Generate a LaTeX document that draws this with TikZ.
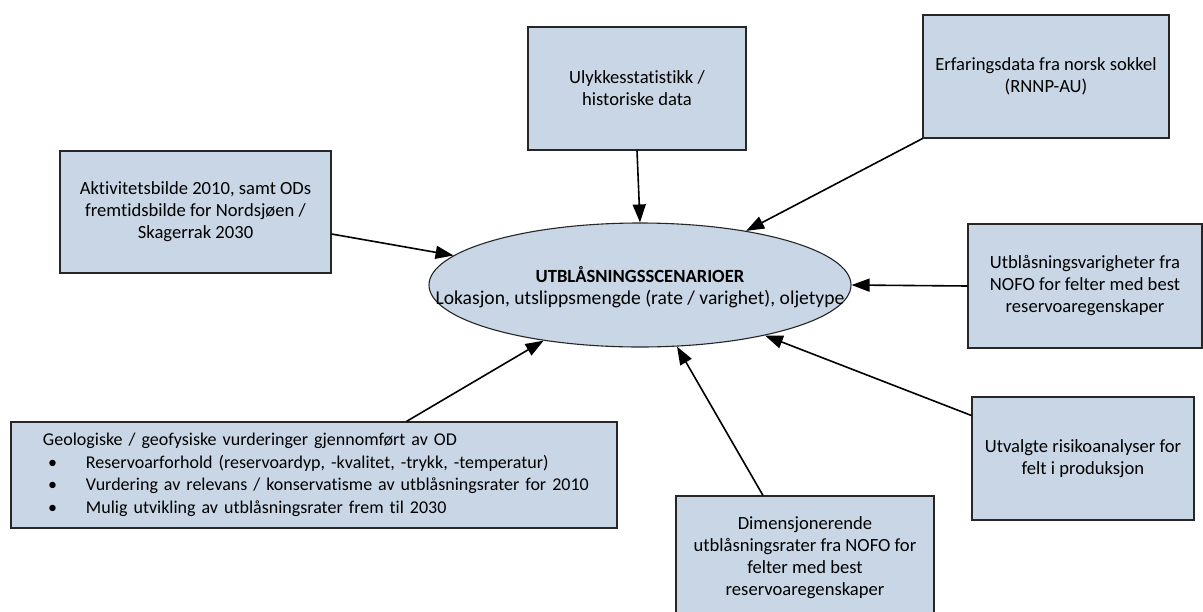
\documentclass[tikz,border=0pt]{standalone}
\usepackage{fontspec}
\setmainfont{Carlito}[Ligatures=NoCommon]
\usetikzlibrary{arrows.meta,calc,positioning,shapes.geometric}
\definecolor{boxblue}{RGB}{200,214,230}
\tikzstyle{kilde}=[draw=black!85,fill=boxblue,line width=1.1pt,align=center,inner sep=4pt]
\tikzstyle{pil}=[-{Triangle[length=18pt,width=13pt]},line width=1.6pt]
\newcommand{\punkt}{\hspace*{14pt}\makebox[38pt][l]{\textbullet}}

\begin{document}
\begin{tikzpicture}[x=1pt,y=-1pt,font=\fontsize{18.6}{22}\selectfont]

% % % % % % % % % % % % % % %

\clip (0,0) rectangle (1203,611);
\useasboundingbox (0,0) rectangle (1203,611);

\node[kilde,ellipse,minimum width=422pt,minimum height=124pt] (scen) at (640,285) {};
\node[align=center] (scentekst) at (640,287) {{\fontsize{18.6}{22}\selectfont\textbf{UTBLÅSNINGSSCENARIOER}}\\{\fontsize{19.6}{22}\selectfont Lokasjon, utslippsmengde (rate / varighet), oljetype}};

\node[kilde,minimum width=218pt,minimum height=123pt] (ulykke) at (637,88.5) {Ulykkesstatistikk /\\historiske data};
\node[kilde,minimum width=246pt,minimum height=123pt] (erfaring) at (1046,76.5) {Erfaringsdata fra norsk sokkel\\(RNNP-AU)};
\node[kilde,minimum width=271pt,minimum height=122pt] (aktivitet) at (195.5,212) {Aktivitetsbilde 2010, samt ODs\\fremtidsbilde for Nordsjøen /\\Skagerrak 2030};
\node[kilde,minimum width=234pt,minimum height=124pt] (varighet) at (1085,286) {Utblåsningsvarigheter fra\\NOFO for felter med best\\reservoaregenskaper};
\node[kilde,minimum width=222pt,minimum height=123pt] (utvalgte) at (1083,458.5) {Utvalgte risikoanalyser for\\felt i produksjon};
\node[kilde,minimum width=258pt,minimum height=124pt] (dimensjon) at (805,558) {Dimensjonerende\\utblåsningsrater fra NOFO for\\felter med best\\reservoaregenskaper};
\node[kilde,align=left,text width=560pt,inner xsep=23pt,minimum height=106pt,font=\fontsize{18}{22.5}\selectfont] (geologi) at (314,475) {\hspace*{9pt}Geologiske / geofysiske vurderinger gjennomført av OD\\
\punkt Reservoarforhold (reservoardyp, -kvalitet, -trykk, -temperatur)\\
\punkt Vurdering av relevans / konservatisme av utblåsningsrater for 2010\\
\punkt Mulig utvikling av utblåsningsrater frem til 2030};

\draw[pil] (ulykke.south) -- (scen.north);
\draw[pil] (erfaring.south west) -- (scen.27);
\draw[pil] ($(aktivitet.east)+(0,22)$) -- (scen.171);
\draw[pil] (varighet.west) -- (scen.east);
\draw[pil] ($(utvalgte.west)+(0,-43)$) -- (scen.-22);
\draw[pil] ($(dimensjon.north)+(-42,0)$) -- (scen.-59);
\draw[pil] ($(geologi.north west)+(396,0)$) -- (scen.-150);

\end{tikzpicture}
\end{document}
